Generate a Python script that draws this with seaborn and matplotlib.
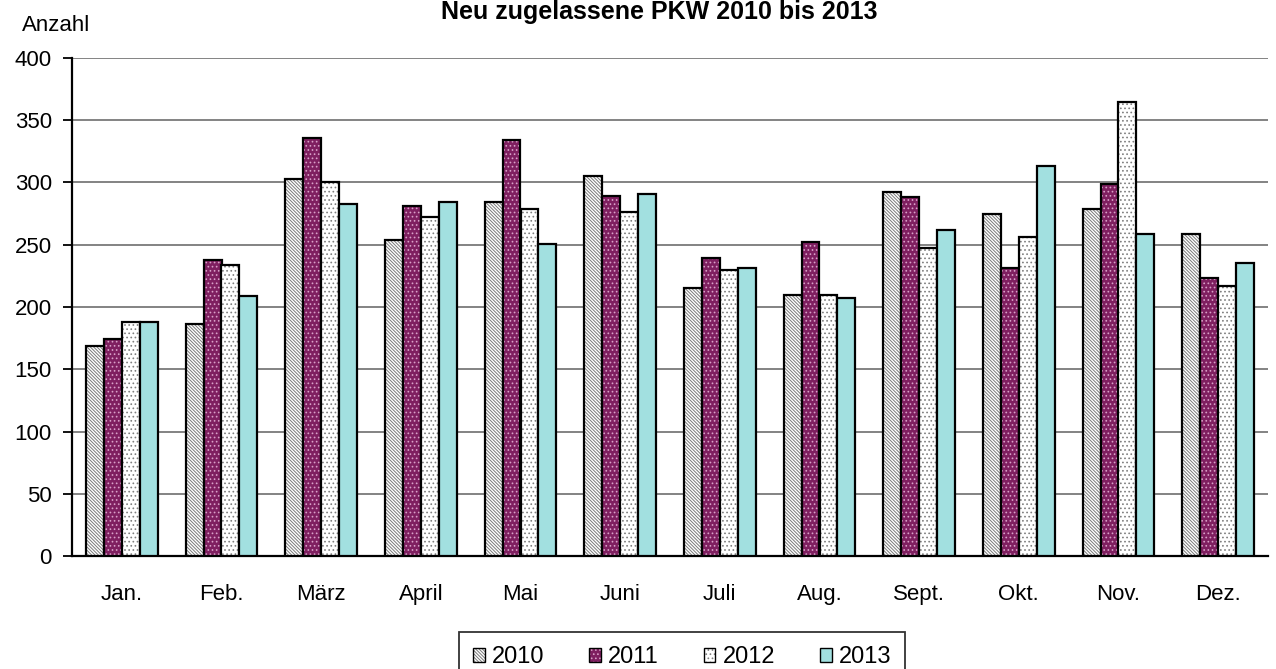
import matplotlib
matplotlib.use("Agg")
import matplotlib.pyplot as plt
import matplotlib.colors as mcolors
from matplotlib.patches import Rectangle
import seaborn as sns
import pandas as pd

months = ["Jan.", "Feb.", "März", "April", "Mai", "Juni", "Juli", "Aug.",
          "Sept.", "Okt.", "Nov.", "Dez."]
years = ["2010", "2011", "2012", "2013"]
v2010 = [169, 186, 303, 254, 284, 305, 215, 210, 292, 275, 279, 259]
v2011 = [174, 238, 336, 281, 334, 289, 239, 252, 288, 231, 299, 223]
v2012 = [188, 234, 300, 272, 279, 276, 230, 210, 247, 256, 365, 217]
v2013 = [188, 209, 283, 284, 251, 291, 231, 207, 262, 313, 259, 235]
yticks = [0, 50, 100, 150, 200, 250, 300, 350, 400]

title = "Neu zugelassene PKW 2010 bis 2013"
ylabel = "Anzahl"

face = {"2010": "#ffffff", "2011": "#7f1f60", "2012": "#ffffff", "2013": "#a2e0e0"}
hatch = {"2010": "\\\\\\\\\\\\\\\\\\\\", "2011": "....", "2012": "....", "2013": None}
hcol = {"2010": "#7a7a7a", "2011": "#d9a0c8", "2012": "#808080", "2013": "#000000"}

rows = []
for y, vals in zip(years, [v2010, v2011, v2012, v2013]):
    for m, v in zip(months, vals):
        rows.append({"Monat": m, "Jahr": y, "Anzahl": v})
df = pd.DataFrame(rows)

sns.set_theme(style="white")
plt.rcParams["font.family"] = ["Liberation Sans", "DejaVu Sans"]
plt.rcParams["hatch.linewidth"] = 0.7
plt.rcParams["text.color"] = "black"
plt.rcParams["xtick.color"] = "black"
plt.rcParams["ytick.color"] = "black"
plt.rcParams["xtick.labelcolor"] = "black"
plt.rcParams["ytick.labelcolor"] = "black"

fig = plt.figure(figsize=(12.76, 6.69), dpi=100)
ax = fig.add_axes([72 / 1276, (669 - 556) / 669, (1268 - 72) / 1276, (556 - 58) / 669])

sns.barplot(data=df, x="Monat", y="Anzahl", hue="Jahr", order=months,
            hue_order=years, palette=[face[y] for y in years], width=0.72,
            saturation=1, errorbar=None, ax=ax, legend=False,
            edgecolor="black", linewidth=1.6, zorder=3)

def style(p, y):
    p.set_facecolor(face[y])
    p.set_edgecolor("black")
    p.set_linewidth(1.6)
    if hatch[y]:
        p.set_hatch(hatch[y])
        p._hatch_color = mcolors.to_rgba(hcol[y])

for y, cont in zip(years, ax.containers):
    for p in cont.patches:
        style(p, y)

ax.set_ylim(0, 400)
ax.set_xlim(-0.5, 11.5)
ax.set_yticks(yticks)
ax.set_yticklabels([str(t) for t in yticks], fontsize=16, color="black")
ax.yaxis.grid(True, color="#7a7a7a", linewidth=1.3, zorder=0)
ax.set_axisbelow(True)
ax.set_xlabel("")
ax.set_ylabel("")
for s in ["top", "right"]:
    ax.spines[s].set_visible(False)
for s in ["left", "bottom"]:
    ax.spines[s].set_color("black")
    ax.spines[s].set_linewidth(1.6)

ax.set_xticks(range(len(months)))
ax.set_xticklabels(months, fontsize=16, color="black")
ax.tick_params(axis="x", which="major", length=0, pad=20)
ax.set_xticks([i - 0.5 for i in range(len(months) + 1)], minor=True)
ax.tick_params(axis="x", which="minor", length=6, width=1.3, color="black", direction="out")
ax.tick_params(axis="y", which="major", length=6.5, width=1.3, color="black",
               direction="out", pad=8, left=True)

fig.text(659 / 1276, 1 - 19 / 669, title, ha="center", va="baseline",
         fontsize=18, fontweight="bold", color="black")
fig.text(22 / 1276, 1 - 31 / 669, ylabel, ha="left", va="baseline", fontsize=16,
         color="black")

handles = []
for y in years:
    r = Rectangle((0, 0), 1, 1)
    style(r, y)
    r.set_linewidth(1.0)
    handles.append(r)
leg = fig.legend(handles=handles, labels=years, loc="upper center",
                 bbox_to_anchor=(682 / 1276, 1 - 632 / 669), ncol=4,
                 fontsize=17, frameon=True, fancybox=False, edgecolor="black",
                 handlelength=0.5, handleheight=0.55, handletextpad=0.3,
                 columnspacing=1.9, borderpad=0.6, borderaxespad=0)
leg.get_frame().set_linewidth(1.3)
for t in leg.get_texts():
    t.set_color("black")

fig.savefig("out.png", dpi=100)
